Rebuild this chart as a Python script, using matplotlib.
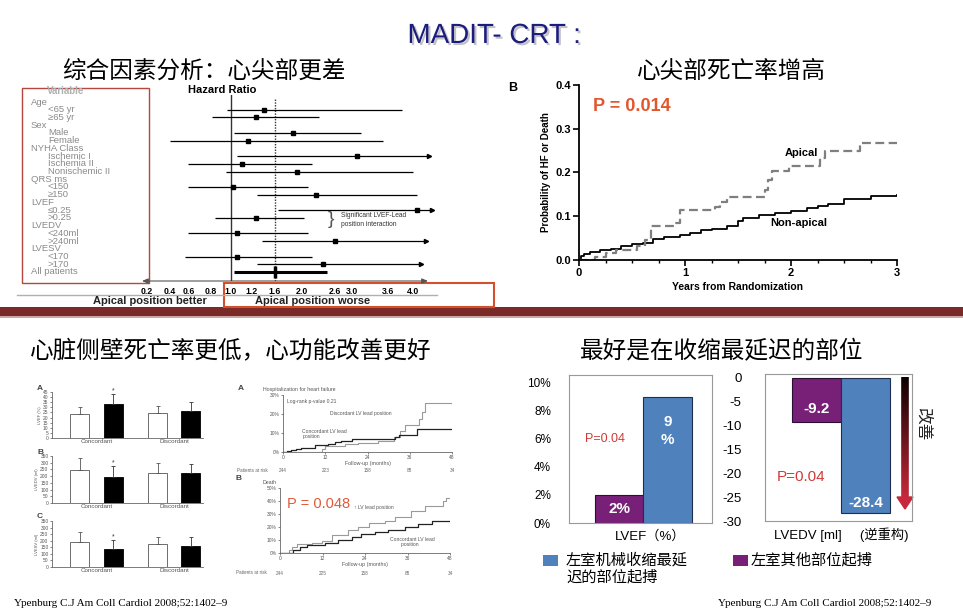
import numpy as np
import matplotlib
matplotlib.use('Agg')
import matplotlib.pyplot as plt
import matplotlib.transforms as mtrans
import matplotlib.patheffects as pe
from matplotlib.patches import Rectangle, Polygon
from matplotlib.collections import LineCollection

W, H = 963, 616
plt.rcParams['font.family'] = ['Liberation Sans', 'Noto Sans CJK SC', 'DejaVu Sans']
plt.rcParams['axes.unicode_minus'] = False
CJK = ['Noto Sans CJK SC', 'DejaVu Sans']

# ---- forest plot (hazard ratio by subgroup) ----
var_labels = ['Age', '<65 yr', '≥65 yr', 'Sex', 'Male', 'Female', 'NYHA Class',
              'Ischemic I', 'Ischemia II', 'Nonischemic II', 'QRS ms', '<150', '≥150',
              'LVEF', '≤0.25', '>0.25', 'LVEDV', '<240ml', '>240ml', 'LVESV', '<170', '>170',
              'All patients']
var_is_sub = [0, 1, 1, 0, 1, 1, 0, 1, 1, 1, 0, 1, 1, 0, 1, 1, 0, 1, 1, 0, 1, 1, 0]
hr_est = [None, 1.40, 1.27, None, 1.87, 1.16, None, 3.08, 1.10, 1.93, None, 1.02, 2.25,
          None, 4.06, 1.27, None, 1.06, 2.60, None, 1.06, 2.38, 1.60]
hr_lo = [None, 0.96, 0.81, None, 1.03, 0.40, None, 1.06, 0.59, 0.95, None, 0.59, 1.28,
         None, 1.64, 0.84, None, 0.59, 1.38, None, 0.56, 1.29, 1.03]
hr_hi = [None, 3.82, 2.31, None, 3.15, 3.52, None, 4.25, 2.18, 4.00, None, 2.11, 4.06,
         None, 4.30, 2.04, None, 2.11, 4.20, None, 2.18, 4.13, 2.45]
hr_open = [0, 0, 0, 0, 0, 0, 0, 1, 0, 0, 0, 0, 0, 0, 1, 0, 0, 0, 1, 0, 0, 1, 0]
hr_ticks = [0.2, 0.4, 0.6, 0.8, 1.0, 1.2, 1.6, 2.0, 2.6, 3.0, 3.6, 4.0]

# ---- KM: apical vs non-apical ----
ap_t = [0, 0.15, 0.25, 0.35, 0.55, 0.62, 0.68, 0.9, 0.95, 1.28, 1.33, 1.4, 1.75, 1.78,
        1.82, 1.98, 2.27, 2.32, 2.65, 3.0]
ap_p = [0, 0.007, 0.015, 0.022, 0.031, 0.045, 0.077, 0.085, 0.115, 0.122, 0.132, 0.145,
        0.16, 0.183, 0.203, 0.215, 0.232, 0.25, 0.268, 0.268]
na_t = [0, 0.02, 0.05, 0.1, 0.2, 0.3, 0.4, 0.5, 0.6, 0.7, 0.8, 0.95, 1.05, 1.15, 1.25,
        1.4, 1.5, 1.55, 1.7, 1.85, 2.0, 2.15, 2.25, 2.35, 2.5, 2.75, 3.0]
na_p = [0, 0.01, 0.014, 0.018, 0.022, 0.026, 0.032, 0.036, 0.04, 0.047, 0.052, 0.057,
        0.062, 0.068, 0.071, 0.078, 0.088, 0.097, 0.102, 0.107, 0.111, 0.118, 0.124,
        0.129, 0.14, 0.146, 0.148]

# ---- small bar charts (concordant / discordant) ----
bl_groups = ['Concordant', 'Discordant']
bl_letters = ['A', 'B', 'C']
bl_ylabels = ['LVEF (%)', 'LVEDV (ml)', 'LVESV (ml)']
bl_ymax = [45, 350, 350]
bl_white = [[23, 24], [245, 225], [190, 172]]
bl_white_err = [[7, 7], [90, 70], [80, 60]]
bl_black = [[33, 26], [195, 220], [135, 162]]
bl_black_err = [[10, 9], [80, 70], [70, 65]]

# ---- KM: hospitalization / death ----
hf_conc_t = [0, 1, 2.4, 3.8, 5.2, 9, 12.8, 14.7, 16.6, 19.5, 31.8, 33, 38, 48]
hf_conc_p = [0, 0.3, 0.9, 1.4, 2.3, 3.7, 4.0, 5.1, 5.8, 6.7, 7.9, 8.8, 12.3, 12.3]
hf_disc_t = [0, 11, 11.8, 17.6, 21.4, 27, 31.4, 33.3, 34.7, 38.5, 39.4, 40.4, 48]
hf_disc_p = [0, 1.5, 3.0, 4.0, 5.0, 6.0, 8.0, 11.0, 14.0, 17.6, 21.0, 25.6, 25.6]
dt_disc_t = [0, 2.4, 3.3, 4.7, 9, 11.8, 14.6, 19.3, 22, 25, 29.6, 32.5, 37, 41, 46, 47, 48]
dt_disc_p = [0, 2, 4.7, 7, 7.8, 9.3, 13.7, 18, 20, 22.8, 25, 28, 32, 36, 40, 42, 42]
dt_conc_t = [0, 2.8, 3.8, 5.6, 7.5, 12.7, 16.5, 20.2, 23, 26.8, 30.6, 35.3, 39, 42.8, 48]
dt_conc_p = [0, 0, 2, 4.7, 6, 8, 9.8, 12.4, 14.5, 16.3, 18, 20, 22, 24.9, 24.9]
risk_months = [0, 12, 24, 36, 48]
risk_hf = [244, 223, 158, 88, 34]
risk_dt = [244, 225, 158, 88, 34]

# ---- bottom right bars ----
series = ['左室机械收缩最延\n迟的部位起搏', '左室其他部位起搏']
lvef_latest, lvef_other = 9, 2
lvedv_latest, lvedv_other = -28.4, -9.2

blue = '#4f81bd'
purple = '#782078'


def box(x0, y0, x1, y1):
    return [x0 / W, 1 - y1 / H, (x1 - x0) / W, (y1 - y0) / H]


fig = plt.figure(figsize=(W / 100, H / 100), dpi=100)
bg = fig.add_axes([0, 0, 1, 1])
bg.set_xlim(0, W)
bg.set_ylim(H, 0)
bg.axis('off')

# titles
bg.text(494, 36, 'MADIT- CRT :', fontsize=20, color='#1c1c7c', ha='center', va='center',
        path_effects=[pe.withSimplePatchShadow(offset=(1.5, -1.5), alpha=0.25)])
bg.text(62, 71, '综合因素分析：心尖部更差', fontsize=17, family=CJK, va='center')
bg.text(637, 72, '心尖部死亡率增高', fontsize=17, family=CJK, va='center')
bg.text(30, 351, '心脏侧壁死亡率更低，心功能改善更好', fontsize=17, family=CJK, va='center')
bg.text(580, 352, '最好是在收缩最延迟的部位', fontsize=17, family=CJK, va='center')

# divider band
bg.add_patch(Rectangle((0, 307), W, 9, color='#7a2b27', lw=0))
bg.add_patch(Rectangle((0, 316), W, 2, color='#c9a9a6', lw=0))

# ---------- forest plot ----------
hr_map = [0.0] + hr_ticks + [5.0]
px_map = [124, 147, 170, 189, 211, 231, 252, 275, 302, 335, 352, 388, 413, 475.5]
fwd = lambda v: np.interp(v, hr_map, px_map)
inv = lambda p: np.interp(p, px_map, hr_map)

fax = fig.add_axes(box(142, 95, 440, 281))
fax.set_facecolor('none')
fax.set_xscale('function', functions=(fwd, inv))
fax.set_xlim(inv(142), inv(440))
n = len(var_labels)
fax.set_ylim(22 + 9 / 7.727, -7 / 7.727)
for s in fax.spines.values():
    s.set_visible(False)
fax.set_yticks([])
fax.set_xticks(hr_ticks)
fax.set_xticklabels(['%.1f' % v for v in hr_ticks], fontsize=6.3, fontweight='bold')
fax.tick_params(axis='x', length=0, pad=4.5)
fax.axvline(1.0, color='#333333', lw=1)
fax.axvline(1.6, ymax=0.985, color='#333333', lw=1, ls=(0, (1, 1)))

for i in range(n):
    if hr_est[i] is None:
        continue
    allp = var_labels[i] == 'All patients'
    fax.plot([hr_lo[i], hr_hi[i]], [i, i], color='black', lw=2.2 if allp else 0.9,
             solid_capstyle='butt')
    fax.plot(hr_est[i], i, 's' if not allp else '|', ms=3 if not allp else 8,
             mew=2.5 if allp else 1, color='black')
    if hr_open[i]:
        fax.plot(hr_hi[i], i, '>', ms=3, color='black')

trans = mtrans.blended_transform_factory(bg.transData, fax.transData)
for i, lab in enumerate(var_labels):
    fax.text(48 if var_is_sub[i] else 31, i, lab, transform=trans, fontsize=6.8,
             color='#8a8a8a', va='center')
bg.text(47, 91, 'Variable', fontsize=7, color='#b0b0b0', fontweight='bold', va='center')
bg.text(222, 90, 'Hazard Ratio', fontsize=8, fontweight='bold', ha='center', va='center')
bg.text(331, 219, '}', fontsize=14, color='#555555', ha='center', va='center',
        fontweight='light')
bg.text(341, 220, 'Significant LVEF-Lead\nposition interaction', fontsize=4.8,
        color='#333333', va='center', linespacing=1.3)
bg.annotate('', xy=(428, 281), xytext=(142, 281),
            arrowprops=dict(arrowstyle='<|-|>,head_length=0.35,head_width=0.15',
                            color='#555555', lw=0.8, shrinkA=0, shrinkB=0))
bg.plot([17, 437], [295, 295], color='#b0b0b0', lw=1)
bg.text(150, 301, 'Apical position better', fontsize=8, fontweight='bold',
        ha='center', va='center', color='#222222')
bg.text(313, 301, 'Apical position worse', fontsize=8, fontweight='bold',
        ha='center', va='center', color='#222222')
bg.add_patch(Rectangle((22, 88), 127, 195, fill=False, ec='#b5473d', lw=1))
bg.add_patch(Rectangle((224, 283), 270, 24, fill=False, ec='#d4502c', lw=1.5))

# ---------- KM apical ----------
kax = fig.add_axes(box(579, 85, 897, 260))
kax.set_facecolor('none')
kax.step(na_t, na_p, where='post', color='black', lw=1.3)
kax.step(ap_t, ap_p, where='post', color='#7f7f7f', lw=1.6, ls=(0, (4, 2)))
kax.set_xlim(0, 3)
kax.set_ylim(0, 0.4)
kax.set_xticks([0, 1, 2, 3])
kax.set_xticks(np.arange(0, 3.01, 0.25), minor=True)
kax.set_yticks([0, 0.1, 0.2, 0.3, 0.4])
kax.set_yticklabels(['0.0', '0.1', '0.2', '0.3', '0.4'])
for s in ['top', 'right']:
    kax.spines[s].set_visible(False)
for s in ['left', 'bottom']:
    kax.spines[s].set_linewidth(1.3)
kax.tick_params(labelsize=8, width=1.2, length=4, pad=2)
kax.tick_params(which='minor', length=2.5, width=1)
for t in kax.get_xticklabels() + kax.get_yticklabels():
    t.set_fontweight('bold')
kax.set_xlabel('Years from Randomization', fontsize=7.5, fontweight='bold', labelpad=3)
kax.set_ylabel('Probability of HF or Death', fontsize=7, fontweight='bold', labelpad=3)
kax.text(0.135, 0.35, 'P = 0.014', fontsize=13, fontweight='bold', color='#e2562c',
         va='center')
kax.text(1.94, 0.245, 'Apical', fontsize=8, fontweight='bold', va='center')
kax.text(1.80, 0.084, 'Non-apical', fontsize=8, fontweight='bold', va='center')
bg.text(508, 88, 'B', fontsize=9, fontweight='bold', va='center')

# ---------- small bar charts ----------
bl_boxes = [(52, 392, 203, 438), (52, 456, 203, 503), (52, 521, 203, 567)]
gc = np.array([0.295, 0.81])
for k in range(3):
    ax = fig.add_axes(box(*bl_boxes[k]))
    ax.set_facecolor('none')
    ax.bar(gc - 0.11, bl_white[k], width=0.125, color='white', ec='#555555', lw=0.6)
    ax.bar(gc + 0.11, bl_black[k], width=0.125, color='black', ec='black', lw=0.6)
    ax.errorbar(gc - 0.11, bl_white[k], yerr=[[0, 0], bl_white_err[k]], fmt='none',
                ecolor='#555555', elinewidth=0.6, capsize=1.5, capthick=0.6)
    ax.errorbar(gc + 0.11, bl_black[k], yerr=[[0, 0], bl_black_err[k]], fmt='none',
                ecolor='#333333', elinewidth=0.6, capsize=1.5, capthick=0.6)
    top = bl_black[k][0] + bl_black_err[k][0]
    ax.text(gc[0] + 0.11, top, '*', fontsize=5, ha='center', va='bottom', color='#333333')
    ax.set_xlim(0, 1)
    ax.set_ylim(0, bl_ymax[k])
    step = 5 if bl_ymax[k] == 45 else 50
    ax.set_yticks(np.arange(0, bl_ymax[k] + 1, step))
    ax.set_xticks(gc)
    ax.set_xticklabels(bl_groups)
    ax.tick_params(labelsize=3.5, colors='#555555', length=1.5, width=0.5, pad=1)
    ax.tick_params(axis='x', length=0, labelsize=4.5)
    for s in ['top', 'right']:
        ax.spines[s].set_visible(False)
    for s in ['left', 'bottom']:
        ax.spines[s].set_linewidth(0.6)
        ax.spines[s].set_color('#666666')
    ax.set_ylabel(bl_ylabels[k], fontsize=3, color='#555555', labelpad=1)
    bg.text(37, bl_boxes[k][1] - 4, bl_letters[k], fontsize=6, fontweight='bold',
            color='#444444', va='center')

# ---------- KM hospitalization / death ----------
km_boxes = [(283, 395, 452, 452), (280, 488, 450, 553)]
km_data = [(hf_conc_t, hf_conc_p, hf_disc_t, hf_disc_p, 30, risk_hf),
           (dt_conc_t, dt_conc_p, dt_disc_t, dt_disc_p, 50, risk_dt)]
km_axes = []
for k in range(2):
    ct, cp, dtt, dp, ymax, risk = km_data[k]
    ax = fig.add_axes(box(*km_boxes[k]))
    ax.set_facecolor('none')
    ax.step(dtt, dp, where='post', color='#9a9a9a', lw=0.8)
    ax.step(ct, cp, where='post', color='#222222', lw=0.9)
    ax.set_xlim(0, 48)
    ax.set_ylim(0, ymax)
    ax.set_xticks(risk_months)
    ax.set_yticks(np.arange(0, ymax + 1, 10))
    ax.set_yticklabels(['%d%%' % v for v in np.arange(0, ymax + 1, 10)])
    ax.tick_params(labelsize=3.5, colors='#555555', length=1.5, width=0.5, pad=1)
    for s in ['top', 'right']:
        ax.spines[s].set_visible(False)
    for s in ['left', 'bottom']:
        ax.spines[s].set_linewidth(0.6)
        ax.spines[s].set_color('#666666')
    ax.set_xlabel('Follow-up (months)', fontsize=3.8, color='#555555', labelpad=0.5)
    tr = ax.get_xaxis_transform()
    for m, r in zip(risk_months, risk):
        ax.text(m, -0.32, str(r), transform=tr, fontsize=3.3, color='#666666',
                ha='center', va='center')
    km_axes.append(ax)

bg.text(237, 470, 'Patients at risk', fontsize=3.3, color='#666666', va='center')
bg.text(236, 573, 'Patients at risk', fontsize=3.3, color='#666666', va='center')
bg.text(238, 389, 'A', fontsize=6, fontweight='bold', color='#444444', va='center')
bg.text(263, 389, 'Hospitalization for heart failure', fontsize=3.8, color='#555555',
        va='center')
bg.text(236, 478, 'B', fontsize=6, fontweight='bold', color='#444444', va='center')
bg.text(263, 482, 'Death', fontsize=3.8, color='#555555', va='center')
km_axes[0].text(1.2, 26.5, 'Log-rank p-value 0.21', fontsize=3.6, color='#555555',
                va='center')
km_axes[0].text(13.3, 20.5, 'Discordant LV lead position', fontsize=3.6,
                color='#555555', va='center')
km_axes[0].text(5.5, 9.5, 'Concordant LV lead\nposition', fontsize=3.6,
                color='#555555', va='center', linespacing=1.1)
km_axes[1].text(2.0, 37.5, 'P = 0.048', fontsize=10.5, color='#e05a3a', va='center')
km_axes[1].text(21, 35, '↑ LV lead position', fontsize=3.6, color='#555555',
                va='center')
km_axes[1].text(31, 8.5, 'Concordant LV lead\n        position', fontsize=3.6,
                color='#555555', va='center', linespacing=1.1)

# ---------- bottom right bar charts ----------
ax1 = fig.add_axes(box(569, 375, 712, 523))
ax1.set_facecolor('none')
ax1.bar([-0.17], [lvef_other], width=0.34, color=purple, ec='#2a1030', lw=0.8)
ax1.bar([0.17], [lvef_latest], width=0.34, color=blue, ec='#1f2f4f', lw=0.8)
ax1.set_xlim(-0.52, 0.48)
ax1.set_ylim(0, 10.57)
ax1.set_yticks(np.arange(0, 11, 2))
ax1.set_yticklabels(['%d%%' % v for v in range(0, 11, 2)])
ax1.set_xticks([0.05])
ax1.set_xticklabels(['LVEF（%）'])
ax1.tick_params(length=0, labelsize=9)
ax1.tick_params(axis='y', pad=13, labelsize=8.5)
ax1.tick_params(axis='x', pad=5, labelsize=9.5)
for s in ax1.spines.values():
    s.set_color('#999999')
    s.set_linewidth(0.8)
ax1.text(-0.17, lvef_other * 0.5, '%d%%' % lvef_other, color='white', fontsize=11,
         fontweight='bold', ha='center', va='center')
ax1.text(0.17, lvef_latest * 0.73, '%d\n%%' % lvef_latest, color='white', fontsize=11,
         fontweight='bold', ha='center', va='center', linespacing=1.3)
ax1.text(-0.41, 6.0, 'P=0.04', color='#d03a36', fontsize=9, va='center')

ax2 = fig.add_axes(box(765, 374, 912, 521))
ax2.set_facecolor('none')
ax2.bar([-0.1675], [lvedv_other], width=0.335, color=purple, ec='#2a1030', lw=0.8)
ax2.bar([0.1675], [lvedv_latest], width=0.335, color=blue, ec='#1f2f4f', lw=0.8)
ax2.set_xlim(-0.517, 0.483)
ax2.set_ylim(-30, 0.8)
ax2.set_yticks(np.arange(-30, 1, 5))
ax2.set_xticks([0])
ax2.set_xticklabels(['LVEDV [ml]     (逆重构)'])
ax2.tick_params(length=0)
ax2.tick_params(axis='y', pad=17, labelsize=9.5)
ax2.tick_params(axis='x', pad=5, labelsize=9.5)
for s in ax2.spines.values():
    s.set_color('#999999')
    s.set_linewidth(0.8)
ax2.text(-0.1675, lvedv_other + 2.7, '%.1f' % lvedv_other, color='white', fontsize=11,
         fontweight='bold', ha='center', va='center')
ax2.text(0.1675, lvedv_latest + 2.2, '%.1f' % lvedv_latest, color='white', fontsize=11,
         fontweight='bold', ha='center', va='center')
ax2.text(-0.44, -20.8, 'P=0.04', color='#d03a36', fontsize=11, va='center')

# gradient arrow "改善"
ys = np.linspace(377, 499, 60)
segs = [[(905, ys[i]), (905, ys[i + 1])] for i in range(len(ys) - 1)]
cols = [(0.78 * f + 0.05 * (1 - f), 0.16 * f, 0.23 * f) for f in np.linspace(0, 1, len(segs))]
bg.add_collection(LineCollection(segs, colors=cols, linewidths=5.5, zorder=5))
bg.add_patch(Polygon([(897, 497), (913, 497), (905, 509)], closed=True, color='#c8283b',
                     zorder=5))
bg.text(923, 424, '改善', family=CJK, fontsize=12, rotation=-90, color='#222222',
        ha='center', va='center')

# legend
bg.add_patch(Rectangle((543, 555), 15, 11, color=blue, lw=0))
bg.text(566, 551, series[0], family=CJK, fontsize=11, va='top', linespacing=1.05)
bg.add_patch(Rectangle((733, 555), 15, 11, color=purple, lw=0))
bg.text(751, 551, series[1], family=CJK, fontsize=11, va='top')

# citations
cite = 'Ypenburg C.J Am Coll Cardiol 2008;52:1402–9'
bg.text(14, 604, cite, family=['Liberation Serif'], fontsize=8, va='center')
bg.text(718, 604, cite, family=['Liberation Serif'], fontsize=8, va='center')

fig.savefig('out.png', dpi=100)
